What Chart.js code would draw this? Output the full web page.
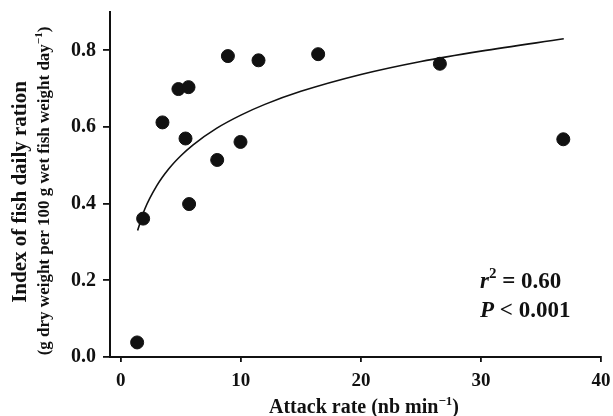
<!DOCTYPE html>
<html>
<head>
<meta charset="utf-8">
<script src="https://cdn.jsdelivr.net/npm/chart.js@4.4.1/dist/chart.umd.min.js"></script>
<style>
  body { margin: 0; background: #fff; }
  #wrap { width: 613px; height: 416px; }
</style>
</head>
<body>
<div id="wrap"><canvas id="fishChart" width="613" height="416"></canvas></div>
<script>
// observed points
const attackRate  = [1.36, 1.86, 3.47, 4.8, 5.64, 5.39, 5.69, 8.03, 8.92, 9.97, 11.47, 16.44, 26.58, 36.86];
const dailyRation = [0.038, 0.361, 0.612, 0.699, 0.704, 0.570, 0.399, 0.514, 0.785, 0.561, 0.774, 0.790, 0.765, 0.568];

// fitted curve
const fitX = [1.4, 2, 3, 4, 5, 6, 8, 10, 12, 15, 20, 25, 30, 36.9];
const fitY = [0.33, 0.386, 0.447, 0.491, 0.525, 0.553, 0.597, 0.631, 0.659, 0.693, 0.737, 0.771, 0.798, 0.830];

const xTicks = [0, 10, 20, 30, 40];
const yTicks = [0, 0.2, 0.4, 0.6, 0.8];

const SERIF = '"Liberation Serif", "Times New Roman", serif';

// draw a run of text pieces, some as superscript / italic
function drawRich(ctx, parts, x, y, size, align) {
  const fontOf = p => (p.italic ? 'italic ' : '') + 'bold ' + (p.sup ? Math.round(size * 0.65) : size) + 'px ' + SERIF;
  let total = 0;
  parts.forEach(p => { ctx.font = fontOf(p); total += ctx.measureText(p.t).width; });
  let cx = align === 'center' ? x - total / 2 : x;
  parts.forEach(p => {
    ctx.font = fontOf(p);
    ctx.fillText(p.t, cx, p.sup ? y - size * 0.42 : y);
    cx += ctx.measureText(p.t).width;
  });
}

const textPlugin = {
  id: 'texts',
  afterDraw(chart) {
    const ctx = chart.ctx;
    ctx.save();
    ctx.fillStyle = '#111';
    ctx.textBaseline = 'alphabetic';
    ctx.textAlign = 'left';

    // x axis title
    drawRich(ctx, [{ t: 'Attack rate (nb min' }, { t: '\u22121', sup: true }, { t: ')' }], 364, 413, 20, 'center');

    // y axis title, two lines
    ctx.save();
    ctx.translate(26, 192);
    ctx.rotate(-Math.PI / 2);
    drawRich(ctx, [{ t: 'Index of fish daily ration' }], 0, 0, 21, 'center');
    ctx.restore();
    ctx.save();
    ctx.translate(49, 191);
    ctx.rotate(-Math.PI / 2);
    drawRich(ctx, [{ t: '(g dry weight per 100 g wet fish weight day' }, { t: '\u22121', sup: true }, { t: ')' }], 0, 0, 17, 'center');
    ctx.restore();

    // statistics
    drawRich(ctx, [{ t: 'r', italic: true }, { t: '2', sup: true }, { t: ' = 0.60' }], 480, 288, 23, 'left');
    drawRich(ctx, [{ t: 'P', italic: true }, { t: ' < 0.001' }], 480, 317, 23, 'left');
    ctx.restore();
  }
};

const ctx = document.getElementById('fishChart').getContext('2d');
new Chart(ctx, {
  type: 'scatter',
  data: {
    datasets: [
      {
        label: 'Observed',
        data: attackRate.map((x, i) => ({ x: x, y: dailyRation[i] })),
        backgroundColor: '#111',
        borderColor: '#111',
        pointRadius: 6.5,
        pointHoverRadius: 6.5,
        order: 1
      },
      {
        label: 'Fit',
        data: fitX.map((x, i) => ({ x: x, y: fitY[i] })),
        showLine: true,
        borderColor: '#111',
        borderWidth: 1.6,
        pointRadius: 0,
        cubicInterpolationMode: 'monotone',
        order: 2
      }
    ]
  },
  options: {
    responsive: false,
    animation: false,
    layout: { padding: { top: 12, right: 12, left: 0, bottom: 0 } },
    plugins: {
      legend: { display: false },
      tooltip: { enabled: false }
    },
    scales: {
      x: {
        type: 'linear',
        min: -0.9,
        max: 40,
        afterBuildTicks: s => { s.ticks = xTicks.map(v => ({ value: v })); },
        afterFit: s => { s.height = 59; s.paddingLeft = 0; s.paddingRight = 0; },
        grid: { display: true, drawOnChartArea: false, drawTicks: true, tickLength: 5, color: '#111', lineWidth: 1.8 },
        border: { display: true, color: '#111', width: 2 },
        ticks: {
          color: '#111',
          padding: 8,
          maxRotation: 0,
          font: { family: SERIF, size: 19, weight: 'bold' },
          callback: v => String(v)
        }
      },
      y: {
        type: 'linear',
        min: 0,
        max: 0.9,
        afterBuildTicks: s => { s.ticks = yTicks.map(v => ({ value: v })); },
        afterFit: s => { s.width = 110; s.paddingTop = 0; s.paddingBottom = 0; },
        grid: { display: true, drawOnChartArea: false, drawTicks: true, tickLength: 7, color: '#111', lineWidth: 1.8 },
        border: { display: true, color: '#111', width: 2 },
        ticks: {
          color: '#111',
          padding: 7,
          font: { family: SERIF, size: 20, weight: 'bold' },
          callback: v => v.toFixed(1)
        }
      }
    }
  },
  plugins: [textPlugin]
});
</script>
</body>
</html>
